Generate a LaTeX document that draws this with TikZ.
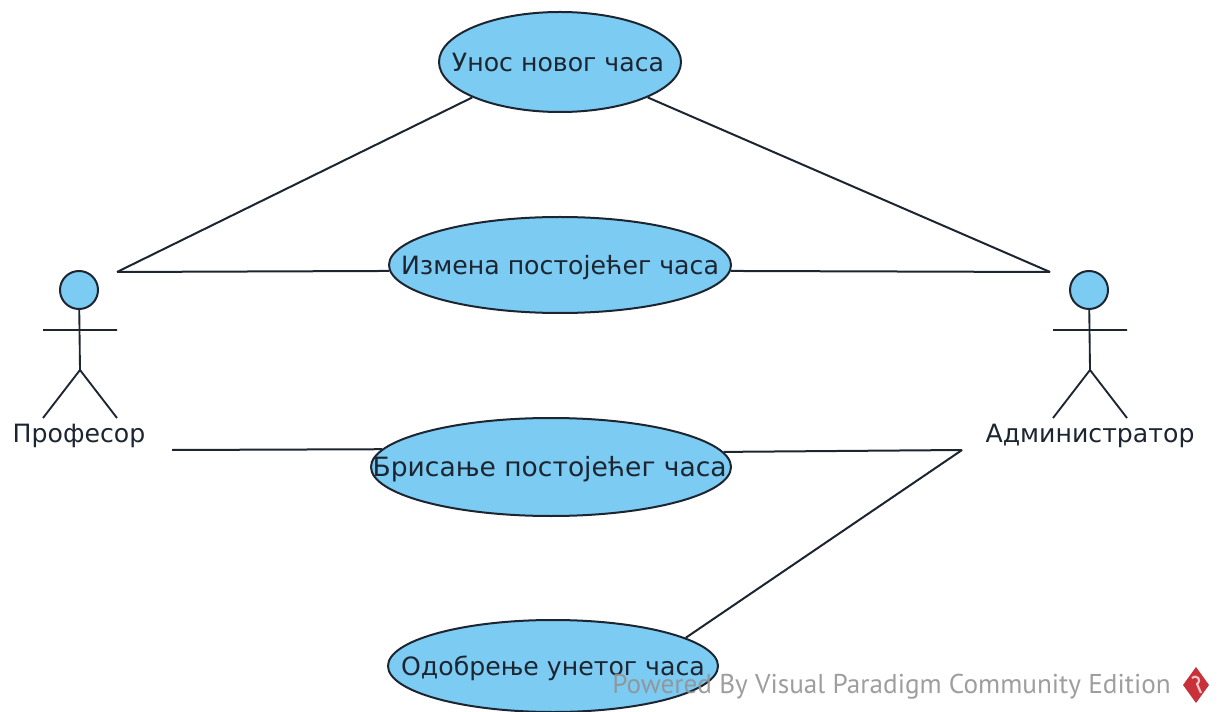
\documentclass[tikz,border=0pt]{standalone}
\usepackage{fontspec}
\setmainfont{DejaVu Sans}
\newfontfamily\markfont{PT Sans}
\usetikzlibrary{shapes.geometric}
\definecolor{ucfill}{HTML}{7CCBF2}
\definecolor{inkline}{HTML}{1C2530}
\definecolor{logored}{HTML}{C8303A}
\definecolor{logopink}{HTML}{F4C6C8}
\newcommand{\uctext}[2][0pt]{\hspace*{#1}\makebox[0pt]{\raisebox{-7pt}[0pt][0pt]{#2}}}
\tikzset{
  x=0.75pt,y=-0.75pt,
  usecase/.style={ellipse,draw=inkline,line width=1.5pt,fill=ucfill,inner sep=0pt,font=\fontsize{18.9}{20}\selectfont,text=inkline},
  link/.style={draw=inkline,line width=1.5pt},
  head/.style={circle,draw=inkline,line width=1.5pt,fill=ucfill,inner sep=0pt,minimum size=28.5pt},
  actorlabel/.style={font=\fontsize{18.9}{20}\selectfont,text=inkline,inner sep=0pt},
  stick/.style={draw=inkline,line width=1.4pt},
}
\begin{document}
\begin{tikzpicture}
\useasboundingbox (0,0) rectangle (1219,712);
\path[clip] (0,0) rectangle (1219,712);
\node[usecase,minimum width=181.5pt,minimum height=75pt] (unos) at (560,62) {\uctext[-3pt]{Унос новог часа}};
\node[usecase,minimum width=256.5pt,minimum height=72pt] (izmena) at (560,265) {\uctext{Измена постојећег часа}};
\node[usecase,minimum width=270pt,minimum height=73.5pt] (brisanje) at (551,467) {\uctext[-2pt]{\fontsize{19.9}{20}\selectfont Брисање постојећег часа}};
\node[usecase,minimum width=247.5pt,minimum height=69pt] (odobrenje) at (553,666) {\uctext{Одобрење унетог часа}};
% actors
\node[head] (proh) at (79,290) {};
\node[head] (admh) at (1089,290) {};
\coordinate (prohip) at (80,370);
\coordinate (prola) at (43,330);
\coordinate (prora) at (117,330);
\coordinate (proll) at (43,418);
\coordinate (prorl) at (117,418);
\coordinate (admhip) at (1090,370);
\coordinate (admla) at (1053,330);
\coordinate (admra) at (1127,330);
\coordinate (admll) at (1053,418);
\coordinate (admrl) at (1127,418);
\draw[stick] (proh) -- (prohip) (prola) -- (prora) (proll) -- (prohip) -- (prorl);
\draw[stick] (admh) -- (admhip) (admla) -- (admra) (admll) -- (admhip) -- (admrl);
\node[actorlabel] (prof) at (79,436) {Професор};
\node[actorlabel] (admin) at (1090,436) {Администратор};
% connector ends
\coordinate (proend) at (117,272);
\coordinate (admend) at (1050,272);
\coordinate (proend2) at (172,450);
\coordinate (admend2) at (962,450);
\draw[link] (proend) -- (unos.202);
\draw[link] (admend) -- (unos.-22);
\draw[link] (proend) -- (izmena.182.4);
\draw[link] (admend) -- (izmena.-2.4);
\draw[link] (proend2) -- (brisanje.174.3);
\draw[link] (admend2) -- (brisanje.5.7);
\draw[link] (admend2) -- (odobrenje.12.4);
% watermark
\node[anchor=base west,inner sep=0pt,text=gray!85,font=\markfont\fontsize{20.4}{22}\selectfont,opacity=0.9] (mark) at (612,693) {Powered By Visual Paradigm Community Edition};
\fill[logored] (1196,667) -- (1209,685) -- (1196,703) -- (1183,685) -- cycle;
\draw[logopink,line width=1.6pt] (1192,678) .. controls (1197,674) and (1202,680) .. (1197,684) -- (1201,693);
\end{tikzpicture}
\end{document}
